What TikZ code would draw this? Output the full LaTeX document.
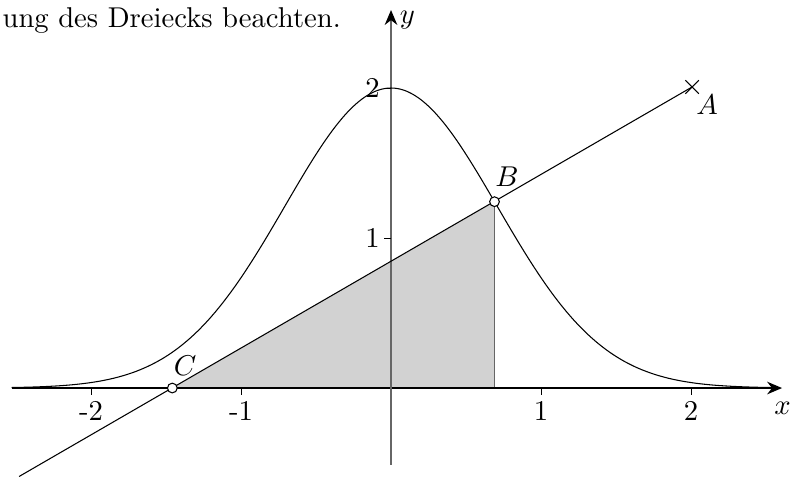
\documentclass[tikz,border=0pt]{standalone}
\usetikzlibrary{arrows.meta}

\tikzset{
  pkt/.style={circle,draw,fill=white,inner sep=0pt,minimum size=3.4pt},
  achse/.style={line width=0.55pt,-{Stealth[length=5.2pt,width=4.4pt,color=black]}},
  tick/.style={line width=0.3pt}
}

\begin{document}
\begin{tikzpicture}[x=1.84cm,y=1.84cm,line width=0.37pt,>=Stealth]
\useasboundingbox (-2.607,-0.6) rectangle (2.74,2.587);
% ---------- points ----------
\coordinate (A) at (2.007,2.007);
\coordinate (Fuss) at (0.69,0);
\coordinate (Lstart) at (-2.48,-0.59);
\coordinate (Bp) at (0.69,1.2424);
\coordinate (Cp) at (-1.458,0);
% ---------- triangle ----------
\fill[gray!35] (Cp) -- (Bp) -- (Fuss) -- cycle;
\draw[gray!80!black] (Bp) -- (Fuss);
% ---------- axes ----------
\coordinate (xl) at (-2.53,0);
\coordinate (xr) at (2.607,0);
\coordinate (yu) at (0,-0.513);
\coordinate (yo) at (0,2.52);
\draw[achse] (xl) -- (xr);
\draw[achse,line width=0.37pt,gray!80!black] (yu) -- (yo);
\node (xlab) at (2.61,-0.133) {$x$};
\node (ylab) at (0.11,2.453) {$y$};
\foreach \t in {-2,-1,1,2}{
  \draw[tick] (\t,0) -- (\t,-0.045);
  \node at (\t,-0.153) {\t};
}
\foreach \t in {1,2}{
  \draw[tick] (0,\t) -- (-0.045,\t);
  \node at (-0.123,\t) {\t};
}
% ---------- curve ----------
\draw[domain=-2.53:2.53,samples=120,smooth] plot (\x,{2*exp(-\x*\x)});
% ---------- line ----------
\draw (Lstart) -- (A);
\draw (2.007-0.045,2.007-0.045) -- (2.007+0.045,2.007+0.045);
\draw (2.007-0.045,2.007+0.045) -- (2.007+0.045,2.007-0.045);
\node[pkt] (B) at (Bp) {};
\node[pkt] (C) at (Cp) {};
\node (Alab) at (2.107,1.89) {$A$};
\node (Blab) at (0.773,1.407) {$B$};
\node (Clab) at (-1.373,0.147) {$C$};
% ---------- text ----------
\node[anchor=base west,inner sep=0pt] (txt) at (-2.593,2.407) {ung des Dreiecks beachten.};
\end{tikzpicture}
\end{document}
